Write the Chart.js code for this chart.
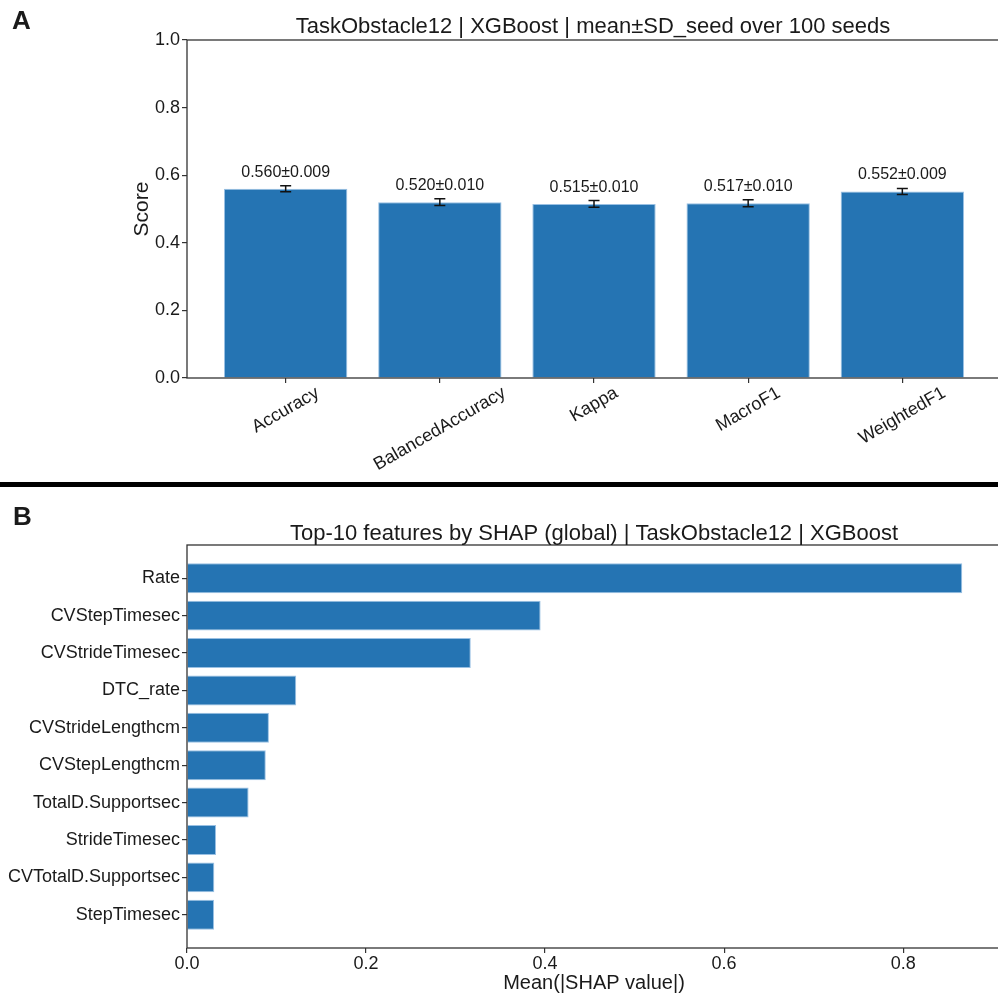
<!DOCTYPE html>
<html><head><meta charset="utf-8">
<script src="https://cdn.jsdelivr.net/npm/chart.js@4/dist/chart.umd.min.js"></script>
<style>
html,body{margin:0;padding:0;background:#fff;overflow:hidden;width:998px;height:995px;}
#wrap{position:relative;width:998px;height:995px;overflow:hidden;background:#fff;}
canvas{position:absolute;left:0;}
#cA{top:0}
#cB{top:490px}
#sep{position:absolute;left:0;top:482px;width:998px;height:5px;background:#000;}
</style></head><body>
<div id="wrap">
<canvas id="cA" width="1001" height="482"></canvas>
<div id="sep"></div>
<canvas id="cB" width="1001" height="505"></canvas>
</div>
<script>
// ---- Panel A data ----
const metrics = ['Accuracy','BalancedAccuracy','Kappa','MacroF1','WeightedF1'];
const metricMeans = [0.560, 0.520, 0.515, 0.517, 0.552];
const metricSDs = [0.009, 0.010, 0.010, 0.010, 0.009];
const scoreTicks = [0.0, 0.2, 0.4, 0.6, 0.8, 1.0];
// ---- Panel B data ----
const features = ['Rate','CVStepTimesec','CVStrideTimesec','DTC_rate','CVStrideLengthcm','CVStepLengthcm','TotalD.Supportsec','StrideTimesec','CVTotalD.Supportsec','StepTimesec'];
const shapValues = [0.866, 0.395, 0.317, 0.122, 0.0915, 0.088, 0.0688, 0.0324, 0.0305, 0.0302];
const shapTicks = [0.0, 0.2, 0.4, 0.6, 0.8];

const titleA = 'TaskObstacle12 | XGBoost | mean\u00B1SD_seed over 100 seeds';
const titleB = 'Top-10 features by SHAP (global) | TaskObstacle12 | XGBoost';

const FONT = '"Liberation Sans", Arial, Helvetica, sans-serif';
const BLUE = '#2574b3';
const TXT = '#1a1a1a';
const AX = '#333333';
Chart.defaults.font.family = FONT;
Chart.defaults.color = TXT;

function frame(chart){
  const a = chart.chartArea, ctx = chart.ctx;
  ctx.save();
  ctx.strokeStyle = AX; ctx.lineWidth = 1.3;
  ctx.strokeRect(a.left, a.top, a.right - a.left, a.bottom - a.top);
  ctx.restore();
}

const pluginA = {
  id: 'panelA',
  afterDatasetsDraw(chart){
    const ctx = chart.ctx, xs = chart.scales.x, ys = chart.scales.y;
    ctx.save();
    ctx.strokeStyle = '#111'; ctx.lineWidth = 1.5;
    metricMeans.forEach((m, i) => {
      const x = xs.getPixelForValue(i);
      const yt = ys.getPixelForValue(m + metricSDs[i]);
      const yb = ys.getPixelForValue(m - metricSDs[i]);
      ctx.beginPath();
      ctx.moveTo(x, yt); ctx.lineTo(x, yb);
      ctx.moveTo(x - 5.5, yt); ctx.lineTo(x + 5.5, yt);
      ctx.moveTo(x - 5.5, yb); ctx.lineTo(x + 5.5, yb);
      ctx.stroke();
      ctx.fillStyle = TXT;
      ctx.font = '16px ' + FONT;
      ctx.textAlign = 'center'; ctx.textBaseline = 'alphabetic';
      ctx.fillText(m.toFixed(3) + '\u00B1' + metricSDs[i].toFixed(3), x, yt - 9);
    });
    ctx.restore();
  },
  afterDraw(chart){
    const ctx = chart.ctx, a = chart.chartArea, xs = chart.scales.x;
    frame(chart);
    ctx.save();
    ctx.fillStyle = TXT;
    // rotated category labels, centred on the ticks
    ctx.font = '18px ' + FONT;
    const ang = 30 * Math.PI / 180, h = 20;
    metrics.forEach((name, i) => {
      const x = xs.getPixelForValue(i);
      const w = ctx.measureText(name).width;
      const bh = w * Math.sin(ang) + h * Math.cos(ang);
      const cy = a.bottom + 5 + bh / 2;
      ctx.save();
      ctx.translate(x, cy); ctx.rotate(-ang);
      ctx.textAlign = 'center'; ctx.textBaseline = 'middle';
      ctx.fillText(name, 0, 0);
      ctx.restore();
    });
    // title
    ctx.font = '22px ' + FONT;
    ctx.textAlign = 'center'; ctx.textBaseline = 'alphabetic';
    ctx.fillText(titleA, (a.left + a.right) / 2 - 1, 33);
    // y label
    ctx.save();
    ctx.translate(148, (a.top + a.bottom) / 2);
    ctx.rotate(-Math.PI / 2);
    ctx.textAlign = 'center'; ctx.textBaseline = 'alphabetic';
    ctx.font = '21px ' + FONT;
    ctx.fillText('Score', 0, 0);
    ctx.restore();
    // panel letter
    ctx.font = 'bold 26px ' + FONT;
    ctx.textAlign = 'left';
    ctx.fillText('A', 12, 29);
    ctx.restore();
  }
};

const pluginB = {
  id: 'panelB',
  afterDraw(chart){
    const ctx = chart.ctx, a = chart.chartArea;
    frame(chart);
    ctx.save();
    ctx.fillStyle = TXT;
    ctx.font = '22px ' + FONT;
    ctx.textAlign = 'center'; ctx.textBaseline = 'alphabetic';
    ctx.fillText(titleB, (a.left + a.right) / 2, 50);
    ctx.font = '20px ' + FONT;
    ctx.fillText('Mean(|SHAP value|)', (a.left + a.right) / 2, 499);
    ctx.font = 'bold 26px ' + FONT;
    ctx.textAlign = 'left';
    ctx.fillText('B', 13, 35);
    ctx.restore();
  }
};

const tickGrid = { display: true, drawOnChartArea: false, drawTicks: true, tickLength: 5, color: AX, lineWidth: 1.2, offset: false };

new Chart(document.getElementById('cA'), {
  type: 'bar',
  data: {
    datasets: [{
      data: metricMeans.map((v, i) => ({ x: i, y: v })),
      backgroundColor: BLUE,
      borderColor: 'rgba(110,165,215,0.7)',
      borderWidth: 1,
      barPercentage: 1,
      categoryPercentage: 0.8
    }]
  },
  options: {
    responsive: false, animation: false, events: [],
    layout: { padding: { top: 40, left: 0, right: 0, bottom: 0 } },
    plugins: { legend: { display: false }, tooltip: { enabled: false } },
    scales: {
      x: {
        type: 'linear', min: -0.64, max: 4.64, bounds: 'data', offset: false,
        afterBuildTicks: s => { s.ticks = metrics.map((_, i) => ({ value: i })); },
        ticks: { display: false },
        grid: tickGrid,
        border: { display: false },
        afterFit: s => { s.height = 104; }
      },
      y: {
        type: 'linear', min: 0, max: 1, bounds: 'data',
        afterBuildTicks: s => { s.ticks = scoreTicks.map(v => ({ value: v })); },
        ticks: { font: { size: 18 }, color: TXT, padding: 2, callback: v => Number(v).toFixed(1) },
        grid: tickGrid,
        border: { display: false },
        afterFit: s => { s.width = 187; }
      }
    }
  },
  plugins: [pluginA]
});

new Chart(document.getElementById('cB'), {
  type: 'bar',
  data: {
    datasets: [{
      data: shapValues.map((v, i) => ({ x: v, y: i })),
      backgroundColor: BLUE,
      borderColor: 'rgba(110,165,215,0.7)',
      borderWidth: 1,
      barPercentage: 1,
      categoryPercentage: 0.8
    }]
  },
  options: {
    indexAxis: 'y',
    responsive: false, animation: false, events: [],
    layout: { padding: { top: 55, left: 0, right: 0, bottom: 0 } },
    plugins: { legend: { display: false }, tooltip: { enabled: false } },
    scales: {
      x: {
        type: 'linear', position: 'bottom', min: 0, max: 0.9093, bounds: 'data', offset: false,
        afterBuildTicks: s => { s.ticks = shapTicks.map(v => ({ value: v })); },
        ticks: { font: { size: 18 }, color: TXT, padding: 0, maxRotation: 0, callback: v => Number(v).toFixed(1) },
        grid: tickGrid,
        border: { display: false },
        afterFit: s => { s.height = 47; }
      },
      y: {
        type: 'linear', reverse: true, min: -0.89, max: 9.89, bounds: 'data', offset: false,
        afterBuildTicks: s => { s.ticks = features.map((_, i) => ({ value: i })); },
        ticks: { font: { size: 18 }, color: TXT, padding: 2, callback: v => features[v] },
        grid: tickGrid,
        border: { display: false },
        afterFit: s => { s.width = 187; }
      }
    }
  },
  plugins: [pluginB]
});
</script>
</body></html>
